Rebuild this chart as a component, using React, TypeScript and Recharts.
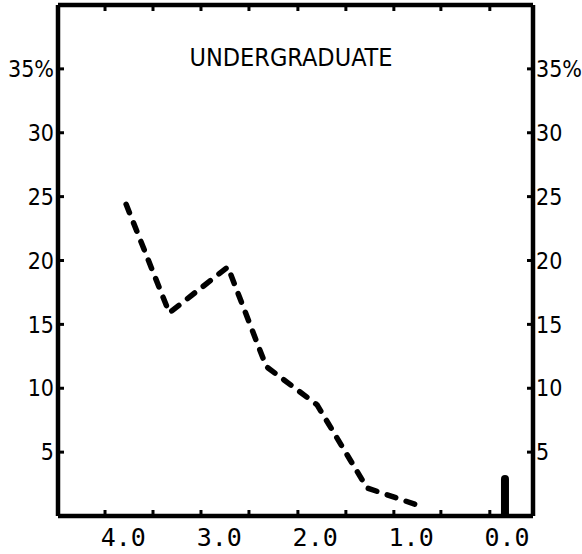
import React from 'react';
import { ComposedChart, Line, Bar, XAxis, YAxis } from 'recharts';

const grades = [3.97, 3.52, 2.91, 2.51, 1.98, 1.46, 0.875];
const percents = [24.4, 15.9, 19.5, 11.7, 8.7, 2.2, 0.7];
const spikeGrade = [0.02];
const spikeValue = [3.2];
const majorTicks = [4, 3, 2, 1, 0];
const minorTicks = [4.19, 3.69, 3.19, 2.69, 2.18, 1.68, 1.18, 0.69, 0.18];
const yTicks = [5, 10, 15, 20, 25, 30, 35];
const title = 'UNDERGRADUATE';

const rows: any[] = [
  ...grades.map((g, i) => ({ g, pct: percents[i] })),
  ...spikeGrade.map((g, i) => ({ g, spike: spikeValue[i] })),
];

const X_DOMAIN: [number, number] = [-0.27, 4.68];
const Y_DOMAIN: [number, number] = [0, 40];
const SANS = "'DejaVu Sans Condensed', 'DejaVu Sans', sans-serif";
const MONO = "'DejaVu Sans Mono', monospace";
const AX = { stroke: '#000', strokeWidth: 4.5 };
const TL = { stroke: '#000', strokeWidth: 3 };
const fmtY = (v: number) => (v === 35 ? '35%' : String(v));
const blank = () => '';
const NOLAB = { fontSize: 1, fill: 'none' };

export default function App() {
  return (
    <div style={{ position: 'absolute', left: 0, top: 0, width: 582, height: 554, background: '#fff' }}>
      <ComposedChart width={582} height={554} data={rows} margin={{ top: 5, right: 0, bottom: 0, left: 0 }}>
        <XAxis xAxisId="minor" type="number" dataKey="g" domain={X_DOMAIN} reversed orientation="bottom" mirror height={1}
          ticks={minorTicks} interval={0} tick={NOLAB} tickFormatter={blank} tickSize={6} tickLine={TL} axisLine={false} allowDataOverflow />
        <XAxis xAxisId="lab" type="number" dataKey="g" domain={X_DOMAIN} reversed orientation="bottom" height={38}
          ticks={majorTicks} interval={0} tickFormatter={(v: number) => v.toFixed(1)} tickLine={false} tickSize={0} tickMargin={12}
          axisLine={AX} tick={{ fill: '#000', fontSize: 25, fontFamily: MONO }} allowDataOverflow />
        <XAxis xAxisId="top" type="number" dataKey="g" domain={X_DOMAIN} reversed orientation="top" mirror height={1}
          ticks={minorTicks} interval={0} tick={NOLAB} tickFormatter={blank} tickSize={6} tickLine={TL} axisLine={AX} allowDataOverflow />
        <YAxis yAxisId="L" type="number" domain={Y_DOMAIN} orientation="left" width={58} ticks={yTicks} interval={0}
          tickFormatter={fmtY} tickLine={false} tickSize={0} tickMargin={4} axisLine={AX}
          tick={{ fill: '#000', fontSize: 23, fontFamily: SANS, fontStretch: 'condensed' } as any} allowDataOverflow />
        <YAxis yAxisId="Lt" type="number" domain={Y_DOMAIN} orientation="left" mirror width={1} ticks={yTicks} interval={0}
          tick={NOLAB} tickFormatter={blank} tickSize={6} tickLine={TL} axisLine={false} allowDataOverflow />
        <YAxis yAxisId="R" type="number" domain={Y_DOMAIN} orientation="right" width={49} ticks={yTicks} interval={0}
          tickFormatter={fmtY} tickLine={false} tickSize={0} tickMargin={3} axisLine={AX}
          tick={{ fill: '#000', fontSize: 23, fontFamily: SANS, fontStretch: 'condensed' } as any} allowDataOverflow />
        <YAxis yAxisId="Rt" type="number" domain={Y_DOMAIN} orientation="right" mirror width={1} ticks={yTicks} interval={0}
          tick={NOLAB} tickFormatter={blank} tickSize={6} tickLine={TL} axisLine={false} allowDataOverflow />
        <Bar xAxisId="lab" yAxisId="L" dataKey="spike" fill="#000" barSize={8} radius={[4, 4, 0, 0]} isAnimationActive={false} />
        <Line xAxisId="lab" yAxisId="L" dataKey="pct" stroke="#000" strokeWidth={5.5} strokeDasharray="9 11"
          strokeLinecap="round" strokeLinejoin="round" dot={false} activeDot={false} isAnimationActive={false} />
      </ComposedChart>
      <svg width={582} height={554} style={{ position: 'absolute', left: 0, top: 0, pointerEvents: 'none' }}>
        <text x={291} y={66} textAnchor="middle" fontSize={25} fontFamily={SANS} style={{ fontStretch: 'condensed' }} fill="#000">{title}</text>
      </svg>
    </div>
  );
}
